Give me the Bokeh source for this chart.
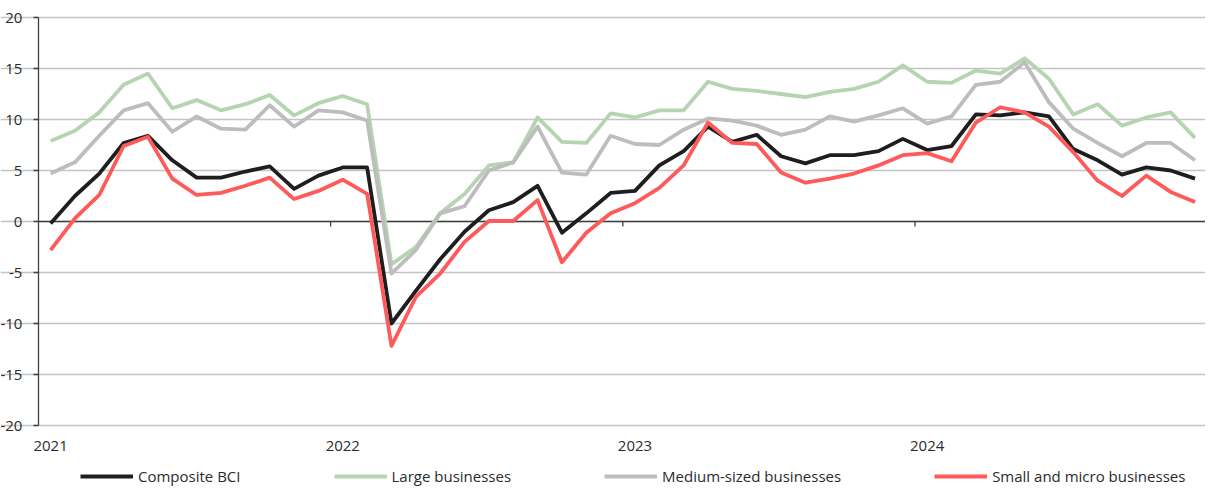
from bokeh.plotting import figure
from bokeh.models import Range1d, LinearAxis, FixedTicker, Legend, LegendItem
from bokeh.embed import file_html
from bokeh.resources import INLINE
import numpy as np

years = ["2021", "2022", "2023", "2024"]
series_names = ["Composite BCI", "Large businesses", "Medium-sized businesses", "Small and micro businesses"]

composite = [-0.2, 2.5, 4.7, 7.7, 8.4, 6.0, 4.3, 4.3, 4.9, 5.4, 3.2, 4.5,
             5.3, 5.3, -10.0, -6.8, -3.7, -1.0, 1.1, 1.9, 3.5, -1.1, 0.8, 2.8,
             3.0, 5.5, 6.9, 9.3, 7.8, 8.5, 6.4, 5.7, 6.5, 6.5, 6.9, 8.1,
             7.0, 7.4, 10.5, 10.4, 10.7, 10.3, 7.1, 6.0, 4.6, 5.3, 5.0, 4.2]
large = [7.9, 8.9, 10.7, 13.4, 14.5, 11.1, 11.9, 10.9, 11.5, 12.4, 10.4, 11.6,
         12.3, 11.5, -4.2, -2.5, 0.8, 2.7, 5.5, 5.8, 10.2, 7.8, 7.7, 10.6,
         10.2, 10.9, 10.9, 13.7, 13.0, 12.8, 12.5, 12.2, 12.7, 13.0, 13.7, 15.3,
         13.7, 13.6, 14.8, 14.5, 16.0, 14.0, 10.5, 11.5, 9.4, 10.2, 10.7, 8.2]
medium = [4.7, 5.8, 8.4, 10.9, 11.6, 8.8, 10.3, 9.1, 9.0, 11.4, 9.3, 10.9,
          10.7, 9.9, -5.1, -2.8, 0.8, 1.5, 5.0, 5.8, 9.3, 4.8, 4.6, 8.4,
          7.6, 7.5, 9.0, 10.1, 9.9, 9.4, 8.5, 9.0, 10.3, 9.8, 10.4, 11.1,
          9.6, 10.3, 13.4, 13.7, 15.6, 11.7, 9.1, 7.7, 6.4, 7.7, 7.7, 6.0]
small = [-2.8, 0.3, 2.6, 7.4, 8.3, 4.2, 2.6, 2.8, 3.5, 4.3, 2.2, 3.0,
         4.1, 2.7, -12.2, -7.4, -5.1, -2.0, 0.05, 0.05, 2.1, -4.0, -1.1, 0.8,
         1.8, 3.3, 5.5, 9.7, 7.7, 7.6, 4.8, 3.8, 4.2, 4.7, 5.5, 6.5,
         6.7, 5.9, 9.7, 11.2, 10.7, 9.3, 6.8, 4.0, 2.5, 4.5, 2.9, 1.9]
yticks = [-20, -15, -10, -5, 0, 5, 10, 15, 20]

colors = ["#1e1e1e", "#b4d5b0", "#bdbdbd", "#ff5a5a"]
FONT = "Open Sans"
TXT = "#2b2b2b"
AX = "#404040"

n = len(composite)
x = np.arange(n) + 0.5

W, H = 1205, 486
X_END = 47.93
PX_PER_MONTH = 24.35
X_START = X_END - W / PX_PER_MONTH  # room left of the y axis for its labels
PX_PER_UNIT = 10.2
Y_TOP = max(yticks) + 17 / PX_PER_UNIT  # room above the top gridline
Y_BOTTOM = Y_TOP - H / PX_PER_UNIT      # room below for year labels and legend

# frame covers the whole figure so labels and legend are not clipped
p = figure(width=W, height=H, output_backend="svg", toolbar_location=None,
           x_range=Range1d(X_START, X_END), y_range=Range1d(Y_BOTTOM, Y_TOP),
           x_axis_location=None, y_axis_location=None,
           min_border_left=0, min_border_right=0, min_border_top=0, min_border_bottom=0)
p.outline_line_color = None
p.xgrid.visible = False
p.ygrid.ticker = FixedTicker(ticks=yticks)
p.ygrid.bounds = (0, X_END)
p.ygrid.grid_line_color = "#c4c4c4"
p.ygrid.grid_line_width = 1.4

# zero axis line and year-boundary ticks
p.segment(x0=[0], y0=[0], x1=[X_END], y1=[0], line_color=AX, line_width=1.3)
bounds = [12 * i for i in range(1, len(years))]
p.segment(x0=bounds, y0=[0] * len(bounds), x1=bounds, y1=[-0.5] * len(bounds),
          line_color=AX, line_width=1.3)

renderers = []
for vals, c in zip([composite, large, medium, small], colors):
    r = p.line(x, vals, line_color=c, line_width=3.8, line_join="round")
    renderers.append(r)

yax = LinearAxis(ticker=FixedTicker(ticks=yticks), bounds=(min(yticks), max(yticks)),
                 fixed_location=0,
                 major_label_overrides={t: str(t) for t in yticks},
                 axis_line_color=AX, axis_line_width=1.3,
                 major_tick_out=5, major_tick_in=0, major_tick_line_color=AX,
                 major_tick_line_width=1.3, minor_tick_line_color=None,
                 major_label_text_font=FONT, major_label_text_font_size="15px",
                 major_label_text_color=TXT, major_label_standoff=11)
p.add_layout(yax, "left")

# year labels under the plot area (at -20), centred on January of each year
lab_x = [12 * i + 0.5 for i in range(len(years))]
xlab = LinearAxis(ticker=FixedTicker(ticks=lab_x), fixed_location=min(yticks),
                  major_label_overrides={t: y for t, y in zip(lab_x, years)},
                  axis_line_color=None, major_tick_line_color=None, minor_tick_line_color=None,
                  major_tick_out=0, major_tick_in=0,
                  major_label_text_font=FONT, major_label_text_font_size="15px",
                  major_label_text_color=TXT, major_label_standoff=15)
p.add_layout(xlab, "below")

legend = Legend(items=[LegendItem(label=nm, renderers=[r]) for nm, r in zip(series_names, renderers)],
                orientation="horizontal", location=(80, 0), spacing=93,
                glyph_width=53, glyph_height=16, label_standoff=5, label_height=16,
                label_text_font=FONT, label_text_font_size="15px", label_text_color=TXT,
                border_line_color=None, background_fill_alpha=0, padding=0, margin=0)
p.add_layout(legend, "center")

open("out.html", "w").write(file_html(p, INLINE))
